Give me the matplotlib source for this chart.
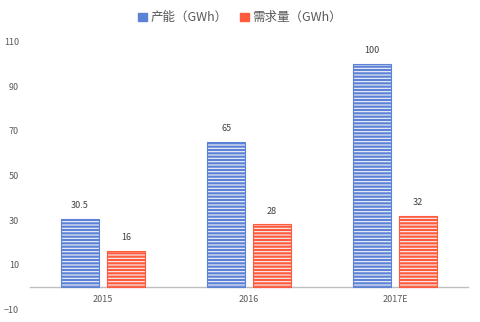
import matplotlib.pyplot as plt
from matplotlib.patches import Patch
import numpy as np

plt.rcParams['font.family'] = ['Noto Sans CJK SC', 'DejaVu Sans']
plt.rcParams['hatch.linewidth'] = 0.8

years = ['2015', '2016', '2017E']
capacity = [30.5, 65, 100]
demand = [16, 28, 32]
series_names = ['产能（GWh）', '需求量（GWh）']

blue = '#5b82d6'
red = '#ff5a3c'

fig = plt.figure(figsize=(4.8, 3.22), dpi=100)
ax = fig.add_axes([0.0625, 0.04, 0.9125, 0.83])

x = np.arange(len(years))
w = 0.26
off = 0.157

for vals, col, dx in [(capacity, blue, -off), (demand, red, off)]:
    # striped fill, then a solid outline on top
    ax.bar(x + dx, vals, w, color=col, edgecolor='#f4f4f8', hatch='-----', linewidth=0, zorder=2)
    ax.bar(x + dx, vals, w, fill=False, edgecolor=col, linewidth=0.8, zorder=3)
    for xi, v in zip(x + dx, vals):
        ax.text(xi, v + 4, f'{v:g}', ha='center', va='bottom', fontsize=6.5, color='#404040')

ax.set_xlim(-0.5, 2.5)
ax.set_ylim(-10, 110)
ax.set_yticks([-10, 10, 30, 50, 70, 90, 110])
ax.set_xticks(x)
ax.set_xticklabels(years)
ax.tick_params(axis='both', length=0, labelsize=6.5, labelcolor='#595959')
ax.tick_params(axis='y', pad=8)
ax.tick_params(axis='x', pad=6)
for s in ['top', 'right', 'left']:
    ax.spines[s].set_visible(False)
ax.spines['bottom'].set_position(('data', 0))
ax.spines['bottom'].set_color('#bfbfbf')
ax.spines['bottom'].set_linewidth(1)

handles = [Patch(facecolor=blue, edgecolor=blue), Patch(facecolor=red, edgecolor=red)]
fig.legend(handles, series_names, loc='upper center', bbox_to_anchor=(0.5, 1.0), ncol=2,
           frameon=False, fontsize=9, handlelength=0.7, handleheight=0.7,
           handletextpad=0.3, columnspacing=1.0, labelcolor='#595959')

fig.savefig('out.png', dpi=100)
